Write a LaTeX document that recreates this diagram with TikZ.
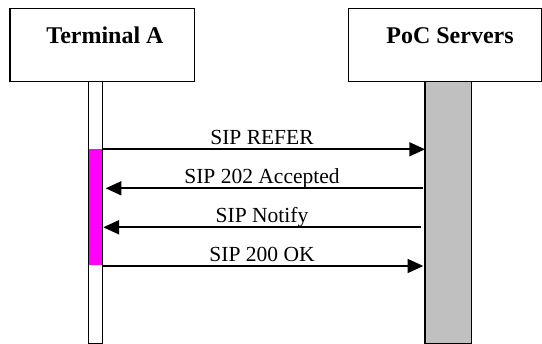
\documentclass[tikz,border=0pt]{standalone}
\usepackage{fontspec}
\setmainfont{Liberation Serif}
\usetikzlibrary{arrows.meta}
\definecolor{srvgray}{RGB}{192,192,192}
\definecolor{actmag}{RGB}{255,0,255}
\tikzset{
  x=1pt, y=-1pt,
  hdrbox/.style={draw=black, line width=1.3pt, fill=white},
  hdrtext/.style={font=\fontsize{24}{28}\selectfont\bfseries, anchor=base, inner sep=0pt},
  lifeline/.style={draw=black, line width=1.1pt},
  msg/.style={line width=1.7pt, -{Triangle[length=15.7pt, width=14pt]}},
  msgtext/.style={font=\fontsize{21.5}{25}\selectfont, anchor=base, inner sep=0pt}
}
\begin{document}
\begin{tikzpicture}
\useasboundingbox (0,0) rectangle (542,344);
% header boxes
\draw[hdrbox] (10,8.3) rectangle (194.3,81.7);
\node[hdrtext] (ta) at (105,43.3) {Terminal A};
\draw[hdrbox] (348.3,8.3) rectangle (541.3,81.7);
\node[hdrtext] (poc) at (450,43.3) {PoC Servers};
% lifelines
\fill[white] (88.3,81.7) rectangle (102.3,343.3);
\fill[actmag] (88.3,149.3) rectangle (101.5,265.5);
\draw[lifeline] (88.3,81.7) rectangle (102.3,343.3);
\draw[lifeline, fill=srvgray] (425,81.7) rectangle (471.7,343.3);
% message endpoints
\coordinate (a1) at (103.3,149.3); \coordinate (b1) at (425,149.3);
\coordinate (b2) at (423.3,188.3); \coordinate (a2) at (105.7,188.3);
\coordinate (b3) at (421,227.3);   \coordinate (a3) at (103.3,227.3);
\coordinate (a4) at (103.3,266);   \coordinate (b4) at (423.3,266);
% messages
\draw[msg] (a1) -- (b1);
\node[msgtext] (m1) at (262,144.8) {SIP REFER};
\draw[msg] (b2) -- (a2);
\node[msgtext] (m2) at (262,183.8) {SIP 202 Accepted};
\draw[msg] (b3) -- (a3);
\node[msgtext] (m3) at (262,222.8) {SIP Notify};
\draw[msg] (a4) -- (b4);
\node[msgtext] (m4) at (262,261.5) {SIP 200 OK};
\end{tikzpicture}
\end{document}
